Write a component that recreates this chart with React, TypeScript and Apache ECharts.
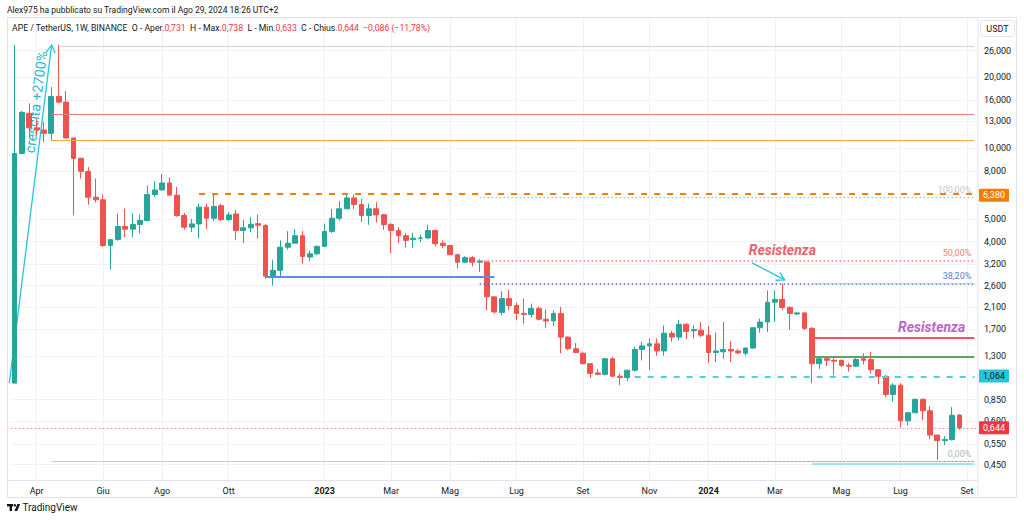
import React, { useEffect, useRef } from 'react';
import * as echarts from 'echarts';

// ---------- DATA (weekly candles APE/USDT, from week of 2022-03-14) ----------
const OPEN = [
  1.0, 9.5, 14.06, 12.2, 11.95, 11.56, 16.6, 15.7, 11.05, 9.05, 7.95, 6.18, 6.03, 3.85, 4.08, 4.64, 4.52, 4.73, 4.92, 6.35, 6.64, 7.11, 6.31, 5.17, 4.61,
  4.76, 5.61, 5.03, 5.69, 4.96, 5.25, 4.46, 4.58, 4.77, 4.69, 2.85, 3.02, 3.79, 3.94, 4.24, 3.44, 3.55, 3.82, 4.42, 5.03, 5.52, 6.14,
  5.76, 5.17, 5.52, 5.21, 4.73, 4.46, 4.24, 4.08, 4.14, 4.15, 4.46, 3.94, 3.85, 3.52, 3.27, 3.42, 3.27, 3.27, 2.33, 2.0, 2.29, 2.14, 1.98,
  1.96, 2.08, 1.87, 1.84, 1.98, 1.57, 1.40, 1.34, 1.21, 1.105, 1.09, 1.27, 1.07, 1.056, 1.135, 1.39, 1.44, 1.47, 1.37, 1.63, 1.57, 1.78,
  1.67, 1.68, 1.60, 1.35, 1.36, 1.39, 1.37, 1.34, 1.41, 1.72, 1.82, 2.21, 2.27, 2.10, 1.97, 1.99, 1.71, 1.21, 1.27, 1.25, 1.25, 1.19, 1.18,
  1.27, 1.26, 1.14, 1.07, 0.895, 0.98, 0.691, 0.748, 0.853, 0.763, 0.601, 0.569, 0.575, 0.731,
];
const CLOSE = [
  9.5, 14.2, 12.2, 11.95, 11.56, 16.6, 15.7, 11.05, 9.05, 7.97, 6.18, 6.03, 3.85, 4.08, 4.64, 4.52, 4.73, 4.92, 6.35, 6.64, 7.11, 6.31, 5.17, 4.61, 4.76,
  5.61, 5.03, 5.65, 4.96, 5.2, 4.46, 4.58, 4.74, 4.7, 2.85, 3.02, 3.79, 3.94, 4.24, 3.46, 3.55, 3.82, 4.42, 5.03, 5.52, 6.14, 5.76,
  5.17, 5.52, 5.2, 4.73, 4.46, 4.24, 4.05, 4.14, 4.15, 4.46, 3.92, 3.85, 3.52, 3.27, 3.42, 3.27, 3.31, 2.33, 2.01, 2.29, 2.14, 1.98, 1.96,
  2.08, 1.87, 1.84, 1.98, 1.57, 1.40, 1.35, 1.21, 1.10, 1.09, 1.27, 1.07, 1.056, 1.135, 1.39, 1.44, 1.47, 1.37, 1.63, 1.57, 1.78, 1.66,
  1.69, 1.60, 1.35, 1.37, 1.39, 1.37, 1.345, 1.41, 1.72, 1.82, 2.21, 2.27, 2.10, 1.98, 1.99, 1.71, 1.21, 1.27, 1.25, 1.24, 1.19, 1.18, 1.26,
  1.25, 1.14, 1.07, 0.895, 0.98, 0.691, 0.748, 0.853, 0.763, 0.601, 0.569, 0.575, 0.730, 0.644,
];
const LOW = [
  1.0, 9.4, 11.0, 11.3, 10.6, 10.8, 15.5, 11.0, 5.17, 7.42, 5.75, 5.88, 3.8, 3.04, 4.05, 4.18, 4.18, 4.33, 4.9, 6.2, 6.6, 6.3, 5.1, 4.5, 4.4,
  4.14, 4.51, 4.89, 4.9, 4.9, 4.07, 3.94, 4.39, 4.12, 2.78, 2.6, 2.83, 3.7, 3.92, 3.22, 3.30, 3.5, 3.8, 4.35, 4.92, 5.5, 5.5,
  4.84, 4.72, 4.83, 4.5, 3.57, 3.94, 3.77, 3.76, 3.98, 4.1, 3.81, 3.75, 3.5, 3.07, 3.25, 3.14, 2.97, 2.04, 1.98, 1.94, 2.04, 1.85, 1.79,
  1.90, 1.85, 1.72, 1.75, 1.34, 1.38, 1.34, 1.2, 1.05, 1.08, 1.08, 1.06, 0.98, 1.02, 1.12, 1.25, 1.135, 1.31, 1.31, 1.5, 1.52, 1.54,
  1.55, 1.57, 1.22, 1.23, 1.27, 1.23, 1.33, 1.31, 1.40, 1.64, 1.65, 1.82, 2.05, 1.69, 1.95, 1.68, 1.0, 1.15, 1.18, 1.08, 1.17, 1.12, 1.17,
  1.2, 1.1, 0.99, 0.87, 0.833, 0.648, 0.66, 0.745, 0.696, 0.576, 0.471, 0.545, 0.57, 0.633,
];
const HIGH = [
  27.5, 14.4, 15.5, 13.3, 12.9, 18.2, 27.5, 17.5, 11.1, 9.1, 8.3, 7.42, 6.35, 4.1, 5.27, 5.53, 5.27, 5.22, 6.93, 7.23, 7.77, 7.5, 6.82, 5.3, 5.0,
  5.8, 5.8, 6.34, 5.8, 5.34, 5.46, 4.95, 5.09, 5.22, 4.75, 3.35, 4.05, 4.43, 4.53, 4.43, 3.67, 3.85, 4.77, 5.51, 5.95, 6.35, 6.35,
  6.08, 5.8, 5.89, 5.25, 4.8, 4.6, 4.35, 4.36, 4.29, 4.72, 4.5, 4.05, 3.86, 3.55, 3.47, 3.47, 3.37, 3.33, 2.33, 2.46, 2.5, 2.2, 2.29,
  2.18, 2.12, 2.06, 2.04, 2.11, 1.58, 1.48, 1.36, 1.22, 1.15, 1.28, 1.29, 1.1, 1.14, 1.43, 1.50, 1.55, 1.55, 1.76, 1.67, 1.86, 1.80,
  1.76, 1.82, 1.75, 1.64, 1.82, 1.51, 1.40, 1.42, 1.73, 1.88, 2.48, 2.48, 2.65, 2.12, 2.0, 2.0, 1.73, 1.30, 1.29, 1.28, 1.26, 1.22, 1.30,
  1.34, 1.36, 1.15, 1.08, 1.0, 1.0, 0.755, 0.86, 0.86, 0.799, 0.601, 0.596, 0.79, 0.738,
];

const START_UTC = Date.UTC(2022, 2, 14);
const EXTRA_WEEKS = 2;

const Y_TICKS = [26, 20, 16, 13, 10, 8, 5, 4, 3.2, 2.6, 2.1, 1.7, 1.3, 0.85, 0.69, 0.55, 0.45];
const Y_MIN = 0.387;
const Y_MAX = 35.8;

const X_TICK_DATES = [
  '2022-04-04', '2022-06-06', '2022-08-01', '2022-10-03', '2023-01-02', '2023-03-06', '2023-05-01', '2023-07-03',
  '2023-09-04', '2023-11-06', '2024-01-01', '2024-03-04', '2024-05-06', '2024-07-01', '2024-09-02',
];
const X_TICK_LABELS = ['Apr', 'Giu', 'Ago', 'Ott', '2023', 'Mar', 'Mag', 'Lug', 'Set', 'Nov', '2024', 'Mar', 'Mag', 'Lug', 'Set'];

// horizontal levels drawn by the author
const ATH_LEVEL = 27.2;
const RED_LEVEL = 13.88;
const ORANGE_LEVEL = 10.76;
const ORANGE_DASH_LEVEL = 6.38;
const BLUE_LEVEL = 2.83;
const CYAN_DASH_LEVEL = 1.064;
const RESIST_LEVEL = 1.556;
const SUPPORT_LEVEL = 1.29;
const LOW_LEVEL = 0.466;
const LOW_CYAN_LEVEL = 0.453;
const CYAN_TOP_LEVEL = 2.65;
// Fibonacci retracement
const FIB_HIGH = 6.19;
const FIB_LOW = 0.466;
const FIB_RATIOS = [1, 0.5, 0.382, 0];
const FIB_LABELS = ['100,00%', '50,00%', '38,20%', '0,00%'];

// ---------- helpers ----------
const FONT = 'Roboto, "Liberation Sans", sans-serif';
const TXT = '#131722';
const UP = '#26a69a';
const DOWN = '#ef5350';
const GRID = '#f0f2f5';
const lg = (v: number) => Math.log10(v);
const fmt = (v: number, d = 3) => v.toFixed(d).replace('.', ',');
const neg = (s: string) => s.replace('-', '\u2212');

const DATES = Array.from({ length: OPEN.length + EXTRA_WEEKS }, (_, i) =>
  new Date(START_UTC + i * 7 * 86400000).toISOString().slice(0, 10)
);
const END_DATE = DATES[DATES.length - 1];

function seg(startIdx: number, value: number, lineStyle: any, label?: any, endIdx?: number) {
  return [
    { coord: [DATES[startIdx], lg(value)], lineStyle, label: label || { show: false } },
    { coord: [endIdx != null ? DATES[endIdx] : END_DATE, lg(value)] },
  ];
}

function tag(value: number, bg: string, color: string, lineStyle?: any) {
  return {
    yAxis: lg(value),
    lineStyle: lineStyle || { color: 'rgba(0,0,0,0)', width: 0 },
    label: {
      show: true,
      position: 'end',
      formatter: fmt(value),
      backgroundColor: bg,
      color,
      opacity: 1,
      fontSize: 9,
      fontFamily: FONT,
      lineHeight: 10,
      padding: [2, 4, 1, 4],
      distance: 1,
      borderRadius: 1,
    },
  };
}

function fibLabel(text: string, color: string) {
  return { show: true, position: 'insideEndTop', formatter: text, color, fontSize: 9, fontFamily: FONT, distance: [3, 3] };
}

function buildOption(): any {
  const candles = OPEN.map((o, i) => [lg(o), lg(CLOSE[i]), lg(LOW[i]), lg(HIGH[i])]);
  const fibColors = ['#b2b5be', '#f77c80', '#4a6bc4', '#9598a1'];
  const fibTextColors = ['#c3c5cc', '#f77c80', '#5b7fd0', '#b2b5be'];
  const fibLines = FIB_RATIOS.map((r, k) =>
    seg(63, FIB_LOW + r * (FIB_HIGH - FIB_LOW), { color: fibColors[k], width: k === 0 || k === 3 ? 1 : 1.5, type: [1.5, 2.5] },
      fibLabel(FIB_LABELS[k], fibTextColors[k]))
  );
  const isTick = (i: number) => X_TICK_DATES.indexOf(DATES[i]) >= 0;

  return {
    animation: false,
    backgroundColor: '#ffffff',
    grid: { left: 10.8, right: 46, top: 18, bottom: 42, containLabel: false },
    xAxis: {
      type: 'category',
      data: DATES,
      boundaryGap: true,
      axisLine: { show: false },
      axisTick: { show: false },
      axisLabel: {
        interval: (i: number) => isTick(i),
        formatter: (v: string) => {
          const k = X_TICK_DATES.indexOf(v);
          if (k < 0) return '';
          const t = X_TICK_LABELS[k];
          return /^\d{4}$/.test(t) ? `{b|${t}}` : t;
        },
        color: TXT,
        fontSize: 9,
        fontFamily: FONT,
        margin: 6,
        rich: { b: { fontWeight: 'bold', fontSize: 9, fontFamily: FONT, color: TXT } },
      },
      splitLine: { show: true, interval: (i: number) => isTick(i), alignWithLabel: true, lineStyle: { color: GRID, width: 1 } },
    },
    yAxis: {
      type: 'value',
      position: 'right',
      min: lg(Y_MIN),
      max: lg(Y_MAX),
      axisLine: { show: false },
      axisTick: { show: false, customValues: Y_TICKS.map(lg) },
      axisLabel: {
        customValues: Y_TICKS.map(lg),
        formatter: (v: number) => fmt(Math.pow(10, v)),
        color: TXT,
        fontSize: 9,
        fontFamily: FONT,
        margin: 6,
        align: 'left',
      },
      splitLine: { show: true, lineStyle: { color: GRID, width: 1 } },
    },
    series: [
      {
        type: 'candlestick',
        data: candles,
        barWidth: '72%',
        itemStyle: { color: UP, color0: DOWN, borderColor: UP, borderColor0: DOWN, borderWidth: 1 },
        markLine: {
          silent: true,
          animation: false,
          symbol: ['none', 'none'],
          label: { show: false },
          emphasis: { disabled: true },
          data: [
            seg(6, ATH_LEVEL, { color: '#d1d4dc', width: 1, type: 'solid' }),
            seg(5, RED_LEVEL, { color: '#f77c80', width: 1, type: 'solid' }),
            seg(5, ORANGE_LEVEL, { color: '#f8a64a', width: 1, type: 'solid' }),
            seg(5, LOW_LEVEL, { color: '#c8cad1', width: 1, type: 'solid' }),
            seg(25, ORANGE_DASH_LEVEL, { color: '#f57c00', width: 2, type: [6, 7] }),
            seg(34, BLUE_LEVEL, { color: '#5b8ee6', width: 2, type: 'solid' }, undefined, 65),
            ...fibLines,
            seg(108, CYAN_TOP_LEVEL, { color: 'rgba(128,222,234,0.8)', width: 1, type: 'solid' }),
            seg(84, CYAN_DASH_LEVEL, { color: '#4dd0e1', width: 2, type: [6, 7] }),
            seg(108, RESIST_LEVEL, { color: '#f7525f', width: 2, type: 'solid' }, {
              show: true, position: 'insideEndTop', formatter: 'Resistenza', color: '#ba68c8', fontSize: 14,
              fontStyle: 'italic', fontWeight: 'bold', fontFamily: FONT, distance: [9, 4],
            }),
            seg(108, SUPPORT_LEVEL, { color: '#5fa35f', width: 2, type: 'solid' }),
            seg(108, LOW_CYAN_LEVEL, { color: '#80deea', width: 1.5, type: 'solid' }),
            tag(ORANGE_DASH_LEVEL, '#f57c00', '#ffffff'),
            tag(CYAN_DASH_LEVEL, '#26c6da', TXT),
            tag(CLOSE[CLOSE.length - 1], '#f23645', '#ffffff', { color: 'rgba(242,54,69,0.55)', width: 1, type: [1.5, 2.5] }),
          ],
        },
        markPoint: {
          silent: true,
          animation: false,
          symbol: 'circle',
          symbolSize: 1,
          itemStyle: { color: 'rgba(0,0,0,0)' },
          data: [
            {
              coord: [DATES[104], lg(FIB_LOW + 0.5 * (FIB_HIGH - FIB_LOW))],
              label: {
                show: true, position: 'top', distance: 3, formatter: 'Resistenza', color: '#f0606a', fontSize: 14,
                fontStyle: 'italic', fontWeight: 'bold', fontFamily: FONT,
              },
            },
          ],
        },
      },
    ],
  };
}

// annotation anchors: [fractional week index, price]
const GROWTH_FROM: [number, number] = [-0.7, 1.0];
const GROWTH_TO: [number, number] = [5.03, 27.5];
const GROWTH_TEXT_AT: [number, number] = [2.9, 15.7];
const RES_ARROW_FROM: [number, number] = [99.9, 3.25];
const RES_ARROW_TO: [number, number] = [104.3, 2.75];

function buildGraphics(chart: any): any[] {
  const toPx = (p: [number, number]) => {
    const a = chart.convertToPixel({ gridIndex: 0 }, [0, lg(p[1])]);
    const b = chart.convertToPixel({ gridIndex: 0 }, [1, lg(p[1])]);
    return [a[0] + (b[0] - a[0]) * p[0], a[1]];
  };
  const arrow = (from: [number, number], to: [number, number], color: string) => {
    const p1 = toPx(from);
    const p2 = toPx(to);
    const ang = Math.atan2(p2[1] - p1[1], p2[0] - p1[0]);
    const L = 9;
    const phi = Math.PI / 6;
    const a1 = [p2[0] - L * Math.cos(ang - phi), p2[1] - L * Math.sin(ang - phi)];
    const a2 = [p2[0] - L * Math.cos(ang + phi), p2[1] - L * Math.sin(ang + phi)];
    return [
      { type: 'polyline', silent: true, shape: { points: [p1, p2] }, style: { stroke: color, lineWidth: 1.3, fill: null } },
      { type: 'polyline', silent: true, shape: { points: [a1, p2, a2] }, style: { stroke: color, lineWidth: 1.3, fill: null } },
    ];
  };
  const gf = toPx(GROWTH_FROM);
  const gt = toPx(GROWTH_TO);
  const gAng = Math.atan2(-(gt[1] - gf[1]), gt[0] - gf[0]);
  const gc = toPx(GROWTH_TEXT_AT);

  const n = CLOSE.length;
  const lastO = OPEN[n - 1], lastH = HIGH[n - 1], lastL = LOW[n - 1], lastC = CLOSE[n - 1];
  const chg = lastC - CLOSE[n - 2];
  const pct = (chg / CLOSE[n - 2]) * 100;
  const legend =
    `APE / TetherUS, 1W, BINANCE  O - Aper.{r|${fmt(lastO)}}  H - Max.{r|${fmt(lastH)}}  L - Min.{r|${fmt(lastL)}}  ` +
    `C - Chius.{r|${fmt(lastC)}}  {r|${neg(fmt(chg))} (${neg(fmt(pct, 2))}%)}`;

  const border = '#e0e3eb';
  return [
    { type: 'rect', silent: true, shape: { x: 7.5, y: 17.5, width: 1009, height: 480 }, style: { fill: null, stroke: border, lineWidth: 1 } },
    { type: 'line', silent: true, shape: { x1: 978, y1: 18, x2: 978, y2: 498 }, style: { stroke: border, lineWidth: 1 } },
    { type: 'line', silent: true, shape: { x1: 7, y1: 480.5, x2: 978, y2: 480.5 }, style: { stroke: border, lineWidth: 1 } },
    {
      type: 'text', silent: true, x: 7, y: 10,
      style: { text: 'Alex975 ha pubblicato su TradingView.com il Ago 29, 2024 18:26 UTC+2', fill: TXT, fontSize: 8.5, fontFamily: FONT, verticalAlign: 'middle' },
    },
    {
      type: 'text', silent: true, x: 12, y: 28,
      style: {
        text: legend, fill: TXT, fontSize: 8.7, fontFamily: FONT, verticalAlign: 'middle',
        rich: { r: { fill: '#f23645', fontSize: 8.7, fontFamily: FONT } },
      },
    },
    { type: 'rect', silent: true, shape: { x: 980.5, y: 20.5, width: 34, height: 16, r: 3 }, style: { fill: '#ffffff', stroke: border, lineWidth: 1 } },
    { type: 'text', silent: true, x: 997.5, y: 28.8, style: { text: 'USDT', fill: TXT, fontSize: 9, fontFamily: FONT, align: 'center', verticalAlign: 'middle' } },
    // TradingView logo
    { type: 'rect', silent: true, shape: { x: 7, y: 504, width: 6, height: 2.4 }, style: { fill: TXT } },
    { type: 'rect', silent: true, shape: { x: 9.6, y: 504, width: 2.4, height: 7 }, style: { fill: TXT } },
    { type: 'circle', silent: true, shape: { cx: 14.8, cy: 505.3, r: 1.3 }, style: { fill: TXT } },
    { type: 'polygon', silent: true, shape: { points: [[17.4, 504], [20.2, 504], [17.2, 511], [14.4, 511]] }, style: { fill: TXT } },
    { type: 'text', silent: true, x: 22.5, y: 507.5, style: { text: 'TradingView', fill: TXT, fontSize: 10, fontFamily: FONT, verticalAlign: 'middle' } },
    // drawings
    ...arrow(GROWTH_FROM, GROWTH_TO, '#26c6da'),
    {
      type: 'text', silent: true, x: gc[0], y: gc[1], rotation: gAng,
      style: { text: 'crescita +2700%', fill: '#26b8d0', fontSize: 14, fontFamily: FONT, align: 'center', verticalAlign: 'middle' },
    },
    ...arrow(RES_ARROW_FROM, RES_ARROW_TO, '#26c6da'),
  ];
}

export default function App() {
  const ref = useRef<HTMLDivElement>(null);
  useEffect(() => {
    const el = ref.current;
    if (!el) return;
    const chart = echarts.init(el, undefined, { renderer: 'svg' });
    chart.setOption(buildOption());
    chart.setOption({ graphic: buildGraphics(chart) });
    return () => chart.dispose();
  }, []);
  return (
    <div
      ref={ref}
      style={{ position: 'fixed', left: 0, top: 0, width: 1024, height: 522, background: '#ffffff' }}
    />
  );
}
